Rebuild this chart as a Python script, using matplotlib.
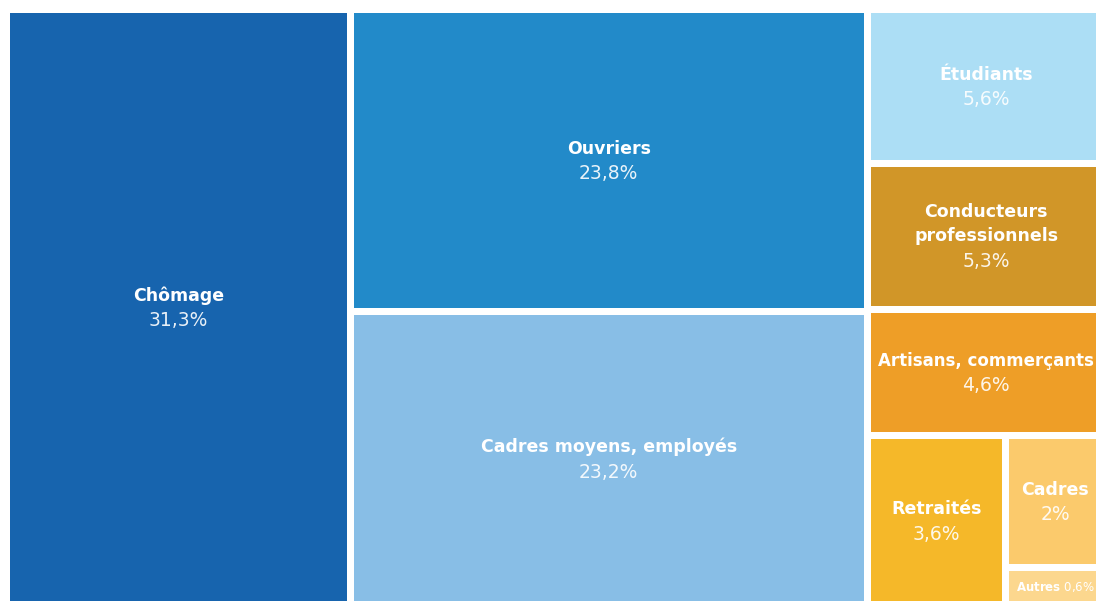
import matplotlib
matplotlib.use("Agg")
import matplotlib.pyplot as plt
from matplotlib.patches import Rectangle

categories = ["Chômage", "Ouvriers", "Cadres moyens, employés", "Étudiants",
              "Conducteurs\nprofessionnels", "Artisans, commerçants", "Retraités",
              "Cadres", "Autres"]
values = [31.3, 23.8, 23.2, 5.6, 5.3, 4.6, 3.6, 2.0, 0.6]
value_labels = ["31,3%", "23,8%", "23,2%", "5,6%", "5,3%", "4,6%", "3,6%", "2%", "0,6%"]
colors = ["#1764ae", "#228ac9", "#88bee6", "#acdef5", "#d19628",
          "#ee9e27", "#f5b829", "#fbca6c", "#fcd78e"]


def worst(row, w):
    s = sum(row)
    return max(max(w * w * r / (s * s), (s * s) / (w * w * r)) for r in row)


def layout_row(row, x, y, dx, dy, horizontal):
    s = sum(row)
    rects = []
    if horizontal:
        h = s / dx
        cx = x
        for r in row:
            w = r / h
            rects.append((cx, y, w, h))
            cx += w
        return rects, (x, y + h, dx, dy - h)
    else:
        w = s / dy
        cy = y
        for r in row:
            h = r / w
            rects.append((x, cy, w, h))
            cy += h
        return rects, (x + w, y, dx - w, dy)


def squarify(vals, x, y, dx, dy):
    total = sum(vals)
    areas = [v * dx * dy / total for v in vals]
    rects = []
    rest = list(areas)
    while rest:
        side = min(dx, dy)
        horizontal = dx < dy
        row = [rest.pop(0)]
        while rest and worst(row + [rest[0]], side) <= worst(row, side):
            row.append(rest.pop(0))
        r, (x, y, dx, dy) = layout_row(row, x, y, dx, dy, horizontal)
        rects.extend(r)
    return rects


W, H = 1096, 601
fig = plt.figure(figsize=(W / 100, H / 100), dpi=100)
ax = fig.add_axes([0, 0, 1, 1])
ax.set_xlim(0, W)
ax.set_ylim(H, 0)
ax.axis("off")

gap = 3.5
rects = squarify(values, 6.5, 9.5, 1099, 597)
font = "DejaVu Sans"
step = 24
for (x, y, w, h), name, vl, c in zip(rects, categories, value_labels, colors):
    ax.add_patch(Rectangle((x + gap, y + gap), w - 2 * gap, h - 2 * gap,
                           facecolor=c, edgecolor="none"))
    cx = x + w / 2
    cy = y + h / 2
    if name == "Autres":
        cx = min(cx, W - 40)
        ax.text(cx, min(cy, 593), f"$\\bf{{{name}}}$ {vl}", color="white",
                ha="center", va="center", fontsize=8.5, family=font)
        continue
    fs = 12.5
    if name.startswith("Artisans"):
        cx = min(cx, 986)
        fs = 12
    if name == "Cadres":
        cx = min(cx, W - 38)
    lines = name.split("\n")
    n = len(lines) + 1
    top = cy - step * (n - 1) / 2
    for i, ln in enumerate(lines):
        ax.text(cx, top + i * step, ln, color="white", ha="center", va="center",
                fontsize=fs, fontweight="bold", family=font)
    ax.text(cx, top + len(lines) * step + 1, vl, color="white", ha="center",
            va="center", fontsize=13.5, family=font, alpha=0.9)

fig.savefig("out.png", dpi=100, facecolor="white")
